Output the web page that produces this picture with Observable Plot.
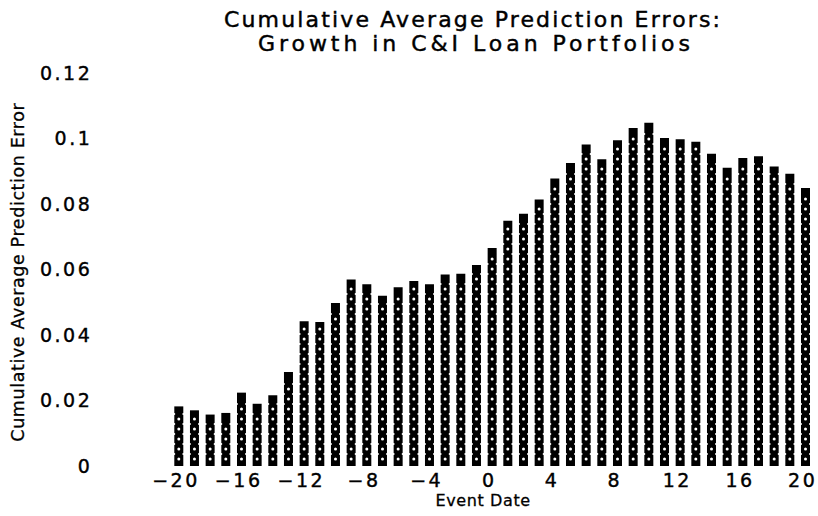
<!DOCTYPE html>
<html><head><meta charset="utf-8">
<script src="https://cdn.jsdelivr.net/npm/d3@7"></script>
<script src="https://cdn.jsdelivr.net/npm/@observablehq/plot@0.6"></script>
<style>
body{margin:0;background:#fff}
#wrap{width:818px;height:516px;overflow:hidden;background:#fff}
#wrap svg{display:block}
#wrap g[aria-label="y-axis tick label"] text,
#wrap g[aria-label="x-axis tick label"] text{letter-spacing:2.5px;stroke:#000;stroke-width:0.4px}
#wrap g[aria-label="text"] text{letter-spacing:0.6px;stroke:#000;stroke-width:0.3px}
</style>
</head><body><div id="wrap"></div>
<script>
const eventDates = [-20,-19,-18,-17,-16,-15,-14,-13,-12,-11,-10,-9,-8,-7,-6,-5,-4,-3,-2,-1,0,1,2,3,4,5,6,7,8,9,10,11,12,13,14,15,16,17,18,19,20];
const cumAvgErrors = [0.0173,0.0161,0.0148,0.0153,0.0215,0.0181,0.0207,0.0278,0.0433,0.0431,
  0.0489,0.0561,0.0546,0.0511,0.0537,0.0556,0.0546,0.0576,0.0578,0.0605,
  0.0657,0.0740,0.0762,0.0805,0.0869,0.0917,0.0973,0.0928,0.0986,0.1024,
  0.1040,0.0993,0.0989,0.0982,0.0945,0.0902,0.0932,0.0937,0.0906,0.0884,0.0840];
const xTicks = [-20,-16,-12,-8,-4,0,4,8,12,16,20];
const yTicks = [0,0.02,0.04,0.06,0.08,0.1,0.12];
const titleLines = ["Cumulative Average Prediction Errors:", "Growth in C&I Loan Portfolios"];
const xLabel = "Event Date";
const yLabel = "Cumulative Average Prediction Error";

const font = "DejaVu Sans, Verdana, sans-serif";
const W = 818, H = 456;
const mTop = 13.3, mBottom = 50, mLeft = 178.3, mRight = 13;

const data = eventDates.map((d, i) => ({date: d, value: cumAvgErrors[i]}));

// symbol-centre positions along each bar (derived from the bar values)
const perPx = 0.12 / (H - mTop - mBottom);
const oDots = [], xNotches = [];
data.forEach(d => {
  for (let k = 0; ; k++) {
    const yo = (7.5 + 10 * k) * perPx;
    if (yo + 3.5 * perPx > d.value) break;
    oDots.push({date: d.date, y: yo});
    const yx = yo + 5 * perPx;
    if (yx + 3.5 * perPx <= d.value) xNotches.push({date: d.date, y: yx});
  }
});

const fmtX = d => d < 0 ? "\u2212" + Math.abs(d) : String(d);
const fmtY = d => d === 0 ? "0" : String(d);

// title block
const tsvg = d3.create("svg").attr("width", W).attr("height", 60)
  .attr("font-family", font).attr("font-size", 22).attr("fill", "black")
  .attr("stroke", "black").attr("stroke-width", 0.45);
tsvg.append("text").attr("x", 472).attr("y", 27).attr("text-anchor", "middle")
  .attr("textLength", 496).attr("lengthAdjust", "spacing").text(titleLines[0]);
tsvg.append("text").attr("x", 474).attr("y", 51).attr("text-anchor", "middle")
  .attr("textLength", 432).attr("lengthAdjust", "spacing").text(titleLines[1]);

const chart = Plot.plot({
  width: W, height: H,
  marginTop: mTop, marginBottom: mBottom, marginLeft: mLeft, marginRight: mRight,
  x: {domain: [-20, 20], label: null},
  y: {domain: [0, 0.12], label: null},
  style: {fontFamily: font, fontSize: "19px", color: "black", background: "white"},
  marks: [
    Plot.ruleX(data, {x: "date", y1: 0, y2: "value", stroke: "black", strokeWidth: 9, insetBottom: 3}),
    Plot.dot(oDots, {x: "date", y: "y", r: 1.5, fill: "white", stroke: null}),
    Plot.dot(xNotches, {x: "date", y: "y", r: 1.1, fill: "white", stroke: null, dx: -4.6}),
    Plot.dot(xNotches, {x: "date", y: "y", r: 1.1, fill: "white", stroke: null, dx: 4.6}),
    Plot.axisX({ticks: xTicks, tickSize: 0, tickPadding: 7, tickFormat: fmtX, dx: -2.8, label: null}),
    Plot.axisY({ticks: yTicks, tickSize: 0, tickPadding: 86.5, tickFormat: fmtY, label: null}),
    Plot.text([xLabel], {text: d => d, frameAnchor: "bottom", textAnchor: "middle", dy: 39, dx: -9, fontSize: 16,
      fill: "black"}),
    Plot.text([yLabel], {text: d => d, frameAnchor: "left", textAnchor: "middle", rotate: -90, dx: -160.8, dy: 2, fontSize: 17.5,
      fill: "black"})
  ]
});

const wrap = document.getElementById("wrap");
wrap.appendChild(tsvg.node());
wrap.appendChild(chart);
</script>
</body></html>
